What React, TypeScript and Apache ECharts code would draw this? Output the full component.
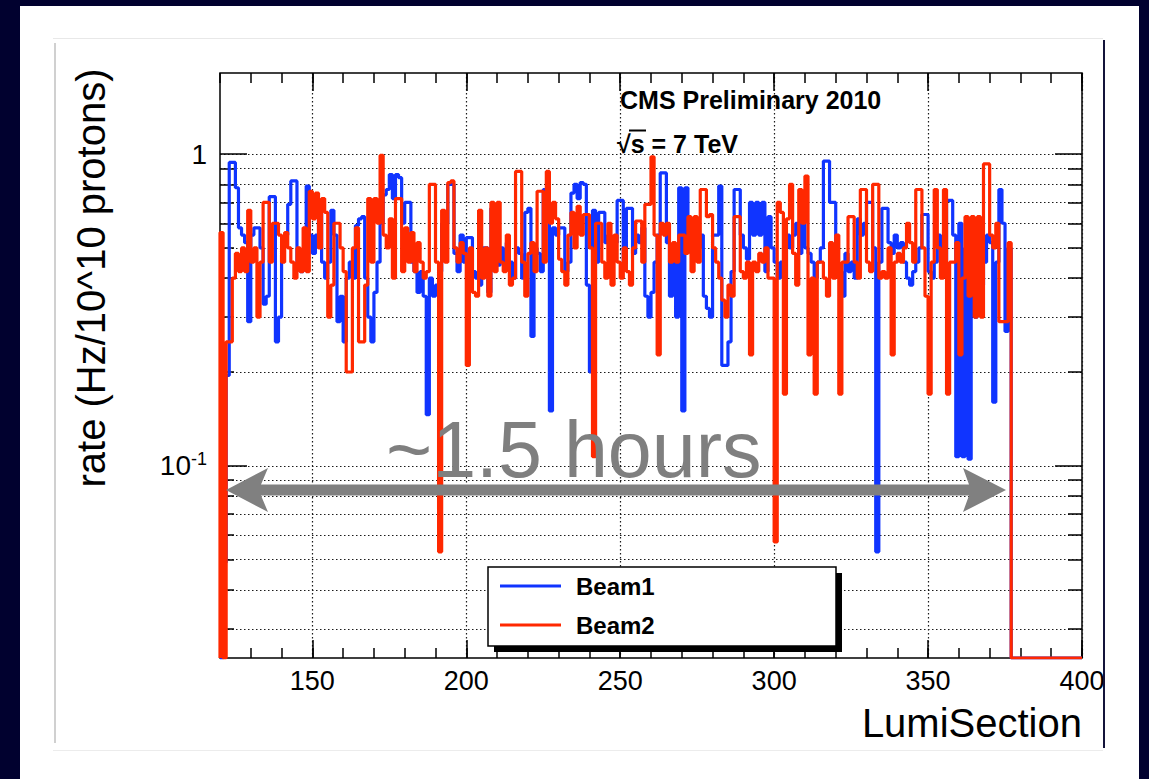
import React, { useEffect, useRef } from 'react';
import * as echarts from 'echarts';

// LumiSection range of the histograms (one bin per LumiSection)
const LUMI_START = 120;
const LUMI_END = 400;

// rate (Hz/10^10 protons), one value per LumiSection starting at 120 (0 = empty bin)
const BEAM1 = [
  0, 0.049, 0.195, 0.94, 0.94, 0.78, 0.58, 0.55, 0.52, 0.29,
  0.55, 0.58, 0.58, 0.5, 0.33, 0.35, 0.73, 0.73, 0.25, 0.3,
  0.5, 0.55, 0.69, 0.82, 0.82, 0.45, 0.42, 0.48, 0.79, 0.55,
  0.48, 0.55, 0.65, 0.45, 0.4, 0.45, 0.66, 0.55, 0.29, 0.35,
  0.25, 0.4, 0.45, 0.4, 0.59, 0.62, 0.63, 0.4, 0.3, 0.25,
  0.36, 0.45, 0.6, 0.74, 0.77, 0.86, 0.72, 0.86, 0.84, 0.6,
  0.7, 0.7, 0.45, 0.42, 0.36, 0.42, 0.35, 0.146, 0.4, 0.35,
  0.38, 0.42, 0.6, 0.6, 0.8, 0.8, 0.48, 0.42, 0.55, 0.45,
  0.54, 0.54, 0.42, 0.4, 0.38, 0.5, 0.5, 0.36, 0.67, 0.67,
  0.44, 0.5, 0.45, 0.52, 0.45, 0.4, 0.5, 0.48, 0.4, 0.65,
  0.67, 0.26, 0.5, 0.48, 0.42, 0.77, 0.77, 0.15, 0.58, 0.55,
  0.58, 0.58, 0.42, 0.45, 0.75, 0.8, 0.72, 0.81, 0.8, 0.38,
  0.2, 0.66, 0.45, 0.65, 0.65, 0.52, 0.55, 0.48, 0.52, 0.71,
  0.71, 0.45, 0.67, 0.67, 0.48, 0.55, 0.52, 0.58, 0.35, 0.3,
  0.36, 0.45, 0.55, 0.87, 0.87, 0.52, 0.35, 0.45, 0.3, 0.78,
  0.15, 0.78, 0.55, 0.5, 0.52, 0.5, 0.55, 0.35, 0.32, 0.3,
  0.55, 0.55, 0.79, 0.21, 0.21, 0.25, 0.42, 0.77, 0.77, 0.55,
  0.5, 0.46, 0.7, 0.55, 0.7, 0.55, 0.7, 0.42, 0.63, 0.5,
  0.45, 0.4, 0.45, 0.4, 0.55, 0.5, 0.55, 0.6, 0.48, 0.62,
  0.5, 0.48, 0.45, 0.4, 0.45, 0.5, 0.95, 0.95, 0.7, 0.7,
  0.45, 0.42, 0.35, 0.48, 0.42, 0.45, 0.4, 0.62, 0.55, 0.6,
  0.7, 0.7, 0.5, 0.053, 0.45, 0.67, 0.67, 0.52, 0.48, 0.55,
  0.5, 0.52, 0.45, 0.4, 0.38, 0.42, 0.45, 0.5, 0.64, 0.64,
  0.42, 0.4, 0.45, 0.55, 0.5, 0.45, 0.71, 0.71, 0.55, 0.107,
  0.6, 0.107, 0.5, 0.105, 0.35, 0.3, 0.4, 0.38, 0.45, 0.55,
  0.52, 0.16, 0.45, 0.77, 0.6, 0.27, 0.5,
];

const BEAM2 = [
  0.56, 0, 0.25, 0.25, 0.4, 0.48, 0.42, 0.5, 0.42, 0.66,
  0.45, 0.5, 0.3, 0.45, 0.7, 0.7, 0.45, 0.6, 0.6, 0.55,
  0.45, 0.56, 0.5, 0.45, 0.4, 0.5, 0.42, 0.58, 0.42, 0.76,
  0.62, 0.75, 0.5, 0.72, 0.65, 0.3, 0.38, 0.6, 0.6, 0.5,
  0.42, 0.2, 0.2, 0.5, 0.58, 0.25, 0.25, 0.38, 0.72, 0.45,
  0.72, 0.6, 0.99, 0.55, 0.5, 0.62, 0.4, 0.72, 0.72, 0.42,
  0.58, 0.45, 0.56, 0.42, 0.52, 0.45, 0.4, 0.42, 0.8, 0.8,
  0.45, 0.053, 0.66, 0.45, 0.81, 0.82, 0.5, 0.45, 0.52, 0.48,
  0.21, 0.5, 0.36, 0.35, 0.66, 0.4, 0.5, 0.35, 0.7, 0.42,
  0.7, 0.45, 0.42, 0.55, 0.38, 0.4, 0.88, 0.88, 0.45, 0.35,
  0.48, 0.52, 0.42, 0.76, 0.76, 0.45, 0.88, 0.6, 0.7, 0.62,
  0.46, 0.42, 0.38, 0.55, 0.65, 0.5, 0.68, 0.55, 0.64, 0.64,
  0.5, 0.107, 0.6, 0.6, 0.45, 0.4, 0.6, 0.38, 0.55, 0.45,
  0.4, 0.5, 0.42, 0.38, 0.5, 0.61, 0.61, 0.45, 0.69, 0.69,
  0.98, 0.55, 0.227, 0.6, 0.55, 0.6, 0.45, 0.52, 0.45, 0.55,
  0.55, 0.48, 0.63, 0.42, 0.63, 0.45, 0.77, 0.77, 0.63, 0.64,
  0.5, 0.45, 0.4, 0.34, 0.3, 0.38, 0.35, 0.63, 0.63, 0.42,
  0.4, 0.45, 0.227, 0.45, 0.42, 0.48, 0.45, 0.5, 0.4, 0.4,
  0.057, 0.7, 0.65, 0.17, 0.62, 0.8, 0.48, 0.38, 0.77, 0.6,
  0.85, 0.227, 0.4, 0.17, 0.45, 0.45, 0.4, 0.35, 0.52, 0.4,
  0.55, 0.17, 0.45, 0.45, 0.63, 0.63, 0.45, 0.4, 0.77, 0.77,
  0.45, 0.42, 0.8, 0.8, 0.4, 0.42, 0.4, 0.5, 0.227, 0.45,
  0.48, 0.45, 0.5, 0.6, 0.52, 0.45, 0.77, 0.77, 0.5, 0.35,
  0.17, 0.45, 0.77, 0.5, 0.4, 0.77, 0.17, 0.45, 0.45, 0.52,
  0.227, 0.4, 0.63, 0.35, 0.63, 0.3, 0.63, 0.3, 0.93, 0.93,
  0.55, 0.5, 0.6, 0.29, 0.29, 0.29, 0.52,
];

const X_LABELS = [150, 200, 250, 300, 350, 400];
const Y_MAJOR = [0.1, 1];
const Y_MINOR = [0.03, 0.04, 0.05, 0.06, 0.07, 0.08, 0.09, 0.2, 0.3, 0.4, 0.5, 0.6, 0.7, 0.8, 0.9];
const Y_MIN = 0.0242;
const Y_MAX = 1.82;

const FF = '"Liberation Sans", Arial, Helvetica, sans-serif';
const BLUE = '#1034ff';
const RED = '#ff2800';
const NAVY = '#01012f';
const GRAY = '#808080';

function toSteps(values: number[]): number[][] {
  const pts: number[][] = [[LUMI_START, Y_MIN]];
  let last = Y_MIN;
  for (let ls = LUMI_START; ls < LUMI_END; ls++) {
    const i = ls - LUMI_START;
    const v = i < values.length ? values[i] : 0;
    last = v > 0 ? v : Y_MIN;
    pts.push([ls, last]);
  }
  pts.push([LUMI_END, last]);
  return pts;
}

const tickLine = { color: '#000', width: 1.5 };
const dots = { color: '#1a1a1a', width: 1.2, type: [1.5, 2.5] };

function buildOption(): any {
  const baseX = {
    type: 'value', min: LUMI_START, max: LUMI_END, gridIndex: 0,
    axisLine: { show: false }, splitLine: { show: false }, axisLabel: { show: false },
  };
  const baseY = {
    type: 'log', logBase: 10, min: Y_MIN, max: Y_MAX, gridIndex: 0,
    axisLine: { show: false }, splitLine: { show: false }, axisLabel: { show: false },
  };
  return {
    animation: false,
    backgroundColor: NAVY,
    grid: {
      left: 220, right: 67, top: 73, bottom: 121,
      show: true, borderColor: '#000', borderWidth: 1.5, backgroundColor: '#fff',
      containLabel: false, outerBoundsMode: 'none',
    },
    xAxis: [
      {
        ...baseX, position: 'bottom', interval: 10,
        axisTick: { show: true, inside: true, length: 10, lineStyle: tickLine },
        axisLabel: { show: true, customValues: X_LABELS, color: '#000', fontSize: 27, fontFamily: FF, margin: 9 },
      },
      {
        ...baseX, position: 'bottom',
        axisTick: { show: true, inside: true, length: 18, customValues: X_LABELS, lineStyle: tickLine },
        splitLine: { show: true, lineStyle: dots },
      },
      {
        ...baseX, position: 'top', interval: 10,
        axisTick: { show: true, inside: true, length: 10, lineStyle: tickLine },
      },
      {
        ...baseX, position: 'top',
        axisTick: { show: true, inside: true, length: 18, customValues: X_LABELS, lineStyle: tickLine },
      },
    ],
    yAxis: [
      {
        ...baseY, position: 'left',
        axisTick: { show: true, inside: true, length: 14, customValues: Y_MINOR, lineStyle: tickLine },
        splitLine: { show: true, lineStyle: dots },
        axisLabel: {
          show: true, customValues: Y_MAJOR, margin: 13, color: '#000', fontFamily: FF, fontSize: 28,
          formatter: (v: number) => {
            if (Math.abs(v - 1) < 1e-6) return '1';
            if (Math.abs(v - 0.1) < 1e-6) return '{m|10}{s|-1}';
            return '';
          },
          rich: {
            m: { fontSize: 28, fontFamily: FF, color: '#000', lineHeight: 32 },
            s: { fontSize: 18, fontFamily: FF, color: '#000', verticalAlign: 'top', lineHeight: 18 },
          },
        },
      },
      {
        ...baseY, position: 'left',
        axisTick: { show: true, inside: true, length: 27, customValues: Y_MAJOR, lineStyle: tickLine },
        splitLine: { show: true, lineStyle: dots },
      },
      {
        ...baseY, position: 'right',
        axisTick: { show: true, inside: true, length: 14, customValues: Y_MINOR, lineStyle: tickLine },
      },
      {
        ...baseY, position: 'right',
        axisTick: { show: true, inside: true, length: 27, customValues: Y_MAJOR, lineStyle: tickLine },
      },
    ],
    legend: {
      data: ['Beam1', 'Beam2'], orient: 'vertical', left: 500, top: 574, padding: 0,
      itemGap: 15, itemWidth: 61, itemHeight: 3, icon: 'rect', selectedMode: false, z: 20,
      textStyle: { fontSize: 24, fontWeight: 'bold', color: '#000', fontFamily: FF, padding: [0, 0, 0, 10] },
    },
    series: [
      {
        name: 'Beam1', type: 'line', step: 'end', symbol: 'none', xAxisIndex: 0, yAxisIndex: 0,
        data: toSteps(BEAM1), lineStyle: { color: BLUE, width: 3.2 }, itemStyle: { color: BLUE }, z: 3,
      },
      {
        name: 'Beam2', type: 'line', step: 'end', symbol: 'none', xAxisIndex: 0, yAxisIndex: 0,
        data: toSteps(BEAM2), lineStyle: { color: RED, width: 3.2 }, itemStyle: { color: RED }, z: 4,
      },
    ],
    graphic: [
      { type: 'rect', z: -100, shape: { x: 20, y: 6, width: 1119, height: 773 }, style: { fill: '#fff' } },
      { type: 'line', z: -99, shape: { x1: 53, y1: 38.5, x2: 1103, y2: 38.5 }, style: { stroke: '#e8e8e8', lineWidth: 1 } },
      { type: 'line', z: -99, shape: { x1: 55, y1: 43, x2: 55, y2: 743 }, style: { stroke: '#d0d0d0', lineWidth: 2 } },
      { type: 'line', z: -99, shape: { x1: 53, y1: 750.5, x2: 1103, y2: 750.5 }, style: { stroke: '#ececec', lineWidth: 1 } },
      // legend box with shadow
      { type: 'rect', z: 8, shape: { x: 494, y: 573, width: 348, height: 79 }, style: { fill: '#000' } },
      { type: 'rect', z: 9, shape: { x: 488, y: 567, width: 348, height: 79 }, style: { fill: '#fff', stroke: '#000', lineWidth: 1.5 } },
      // annotation
      {
        type: 'polygon', z: 15,
        shape: {
          points: [
            [226, 490], [268, 468], [261, 484.5], [969, 484.5], [963, 468], [1006, 490],
            [963, 512], [969, 495.5], [261, 495.5], [268, 512],
          ],
        },
        style: { fill: GRAY },
      },
      { type: 'text', z: 15, x: 386, y: 449, style: { text: '~1.5 hours', fill: '#7f7f7f', font: `79px ${FF}`, textAlign: 'left', textVerticalAlign: 'middle' } },
      { type: 'text', z: 15, x: 620, y: 99.5, style: { text: 'CMS Preliminary 2010', fill: '#000', font: `bold 25px ${FF}`, textAlign: 'left', textVerticalAlign: 'middle' } },
      { type: 'text', z: 15, x: 617, y: 144, style: { text: '√s = 7 TeV', fill: '#000', font: `bold 25px ${FF}`, textAlign: 'left', textVerticalAlign: 'middle' } },
      { type: 'line', z: 15, shape: { x1: 629, y1: 130.5, x2: 646, y2: 130.5 }, style: { stroke: '#000', lineWidth: 2 } },
      { type: 'text', z: 15, x: 91, y: 278, rotation: Math.PI / 2, style: { text: 'rate (Hz/10^10 protons)', fill: '#000', font: `40px ${FF}`, textAlign: 'center', textVerticalAlign: 'middle' } },
      { type: 'text', z: 15, x: 1082, y: 723, style: { text: 'LumiSection', fill: '#000', font: `40px ${FF}`, textAlign: 'right', textVerticalAlign: 'middle' } },
      // slide edge on the right (clips the last tick label)
      { type: 'rect', z: 30, shape: { x: 1103, y: 662, width: 34, height: 50 }, style: { fill: '#fff' } },
      { type: 'line', z: 31, shape: { x1: 1104, y1: 40, x2: 1104, y2: 748 }, style: { stroke: '#14143a', lineWidth: 2 } },
    ],
  };
}

export default function App() {
  const ref = useRef<HTMLDivElement>(null);
  useEffect(() => {
    if (!ref.current) return;
    const chart = echarts.init(ref.current, null, { renderer: 'svg' });
    chart.setOption(buildOption());
    return () => chart.dispose();
  }, []);
  return <div ref={ref} style={{ position: 'fixed', left: 0, top: 0, width: 1149, height: 779 }} />;
}
